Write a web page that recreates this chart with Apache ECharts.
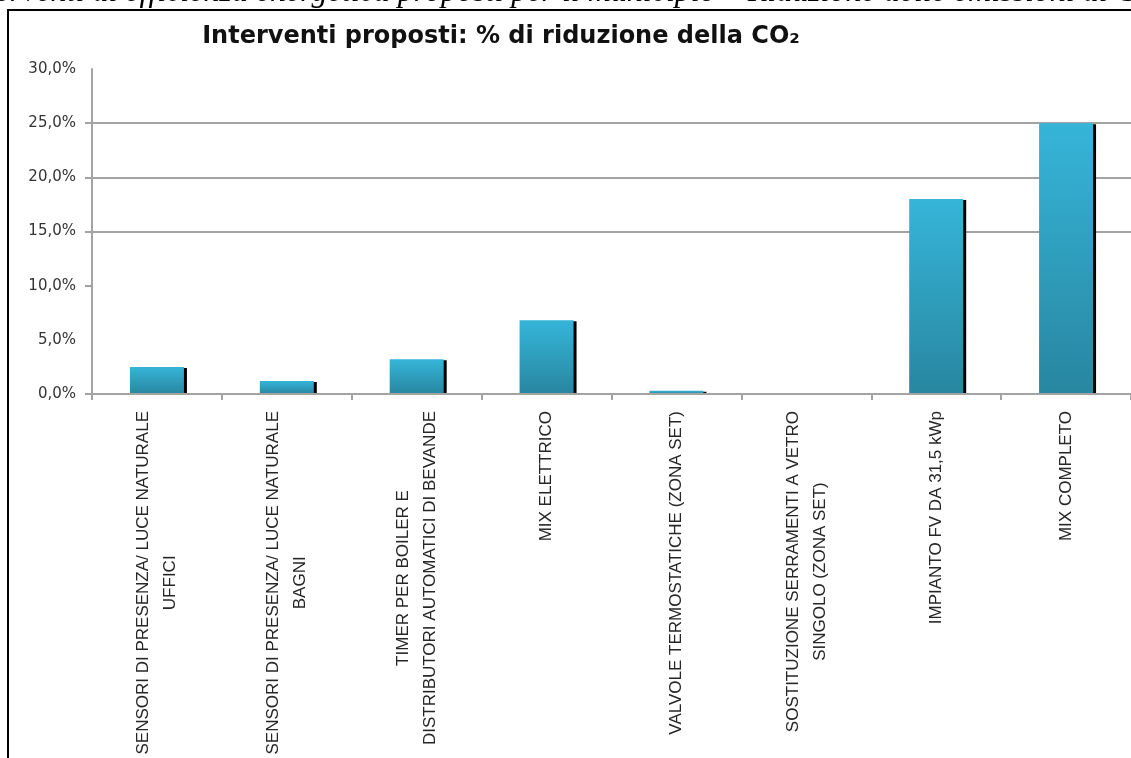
<!DOCTYPE html>
<html>
<head>
<meta charset="utf-8">
<style>
  html, body { margin: 0; padding: 0; background: #ffffff; }
  #chart { width: 1131px; height: 758px; }
</style>
<script src="https://cdn.jsdelivr.net/npm/echarts@6/dist/echarts.min.js"></script>
</head>
<body>
<div id="chart"></div>
<script>
// Interventions (two-line labels split on \n)
const categories = [
  'SENSORI DI PRESENZA/ LUCE NATURALE\nUFFICI',
  'SENSORI DI PRESENZA/ LUCE NATURALE\nBAGNI',
  'TIMER PER BOILER E\nDISTRIBUTORI AUTOMATICI DI BEVANDE',
  'MIX ELETTRICO',
  'VALVOLE TERMOSTATICHE (ZONA SET)',
  'SOSTITUZIONE SERRAMENTI A VETRO\nSINGOLO (ZONA SET)',
  'IMPIANTO FV DA 31,5 kWp',
  'MIX COMPLETO'
];
// CO2 reduction share for each intervention
const reduction = [0.025, 0.012, 0.032, 0.068, 0.003, 0.0, 0.180, 0.250];
// value axis
const yMin = 0;
const yMax = 0.30;
const yStep = 0.05;
const tickValues = [0, 0.10, 0.15, 0.20, 0.25];

const pageCaption = 'Interventi di efficienza energetica proposti per il municipio \u2013 Riduzione delle emissioni di CO\u2082';
const chartTitle = 'Interventi proposti: % di riduzione della CO\u2082';

const fmtPct = v => (v * 100).toFixed(1).replace('.', ',') + '%';
const gridGrey = '#a3a3a3';

const chart = echarts.init(document.getElementById('chart'), null, { renderer: 'canvas' });

chart.setOption({
  backgroundColor: '#ffffff',
  animation: false,
  graphic: [
    {
      type: 'text', x: -40, y: -7, silent: true,
      style: {
        text: pageCaption, fill: '#000',
        font: 'italic 32px "Liberation Serif", serif',
        textVerticalAlign: 'middle'
      }
    },
    {
      type: 'rect', silent: true,
      shape: { x: 8, y: 10, width: 1200, height: 800 },
      style: { fill: 'none', stroke: '#000', lineWidth: 2 }
    },
    {
      type: 'text', x: 501, y: 25, silent: true,
      style: {
        text: chartTitle, fill: '#111',
        font: 'bold 24px "DejaVu Sans", sans-serif',
        textAlign: 'center'
      }
    }
  ],
  grid: { left: 92, top: 69, width: 1040, bottom: 364, containLabel: false },
  xAxis: {
    type: 'category',
    data: categories,
    z: 3,
    axisLine: { lineStyle: { color: gridGrey, width: 2 } },
    axisTick: { show: true, length: 6, lineStyle: { color: gridGrey, width: 2 } },
    axisLabel: {
      interval: 0,
      rotate: 90,
      margin: 17,
      formatter: v => v.split('\n').map(s => '{c|' + s + '}').join('\n'),
      rich: {
        c: {
          align: 'center',
          fontFamily: '"Liberation Sans", Arial, sans-serif',
          fontSize: 17,
          lineHeight: 27,
          color: '#262626'
        }
      }
    }
  },
  yAxis: {
    type: 'value',
    min: yMin,
    max: yMax,
    interval: yStep,
    axisLine: { show: true, lineStyle: { color: gridGrey, width: 2 } },
    axisTick: { show: true, length: 7, customValues: tickValues, lineStyle: { color: gridGrey, width: 2 } },
    axisLabel: {
      margin: 16,
      formatter: fmtPct,
      fontFamily: '"DejaVu Sans", sans-serif',
      fontSize: 15,
      color: '#333'
    },
    splitLine: {
      show: true,
      lineStyle: {
        // lines at 0,5,10,15,20,25,30 %
        color: [gridGrey, 'rgba(0,0,0,0)', gridGrey, gridGrey, gridGrey, gridGrey, 'rgba(0,0,0,0)'],
        width: 2
      }
    }
  },
  series: [
    {
      type: 'bar',
      data: reduction,
      barWidth: 54,
      z: 2,
      itemStyle: {
        color: new echarts.graphic.LinearGradient(0, 0, 0, 1, [
          { offset: 0, color: '#36b5d9' },
          { offset: 1, color: '#2886a0' }
        ]),
        shadowColor: '#000',
        shadowBlur: 0,
        shadowOffsetX: 3,
        shadowOffsetY: 1
      }
    }
  ]
});
</script>
</body>
</html>
